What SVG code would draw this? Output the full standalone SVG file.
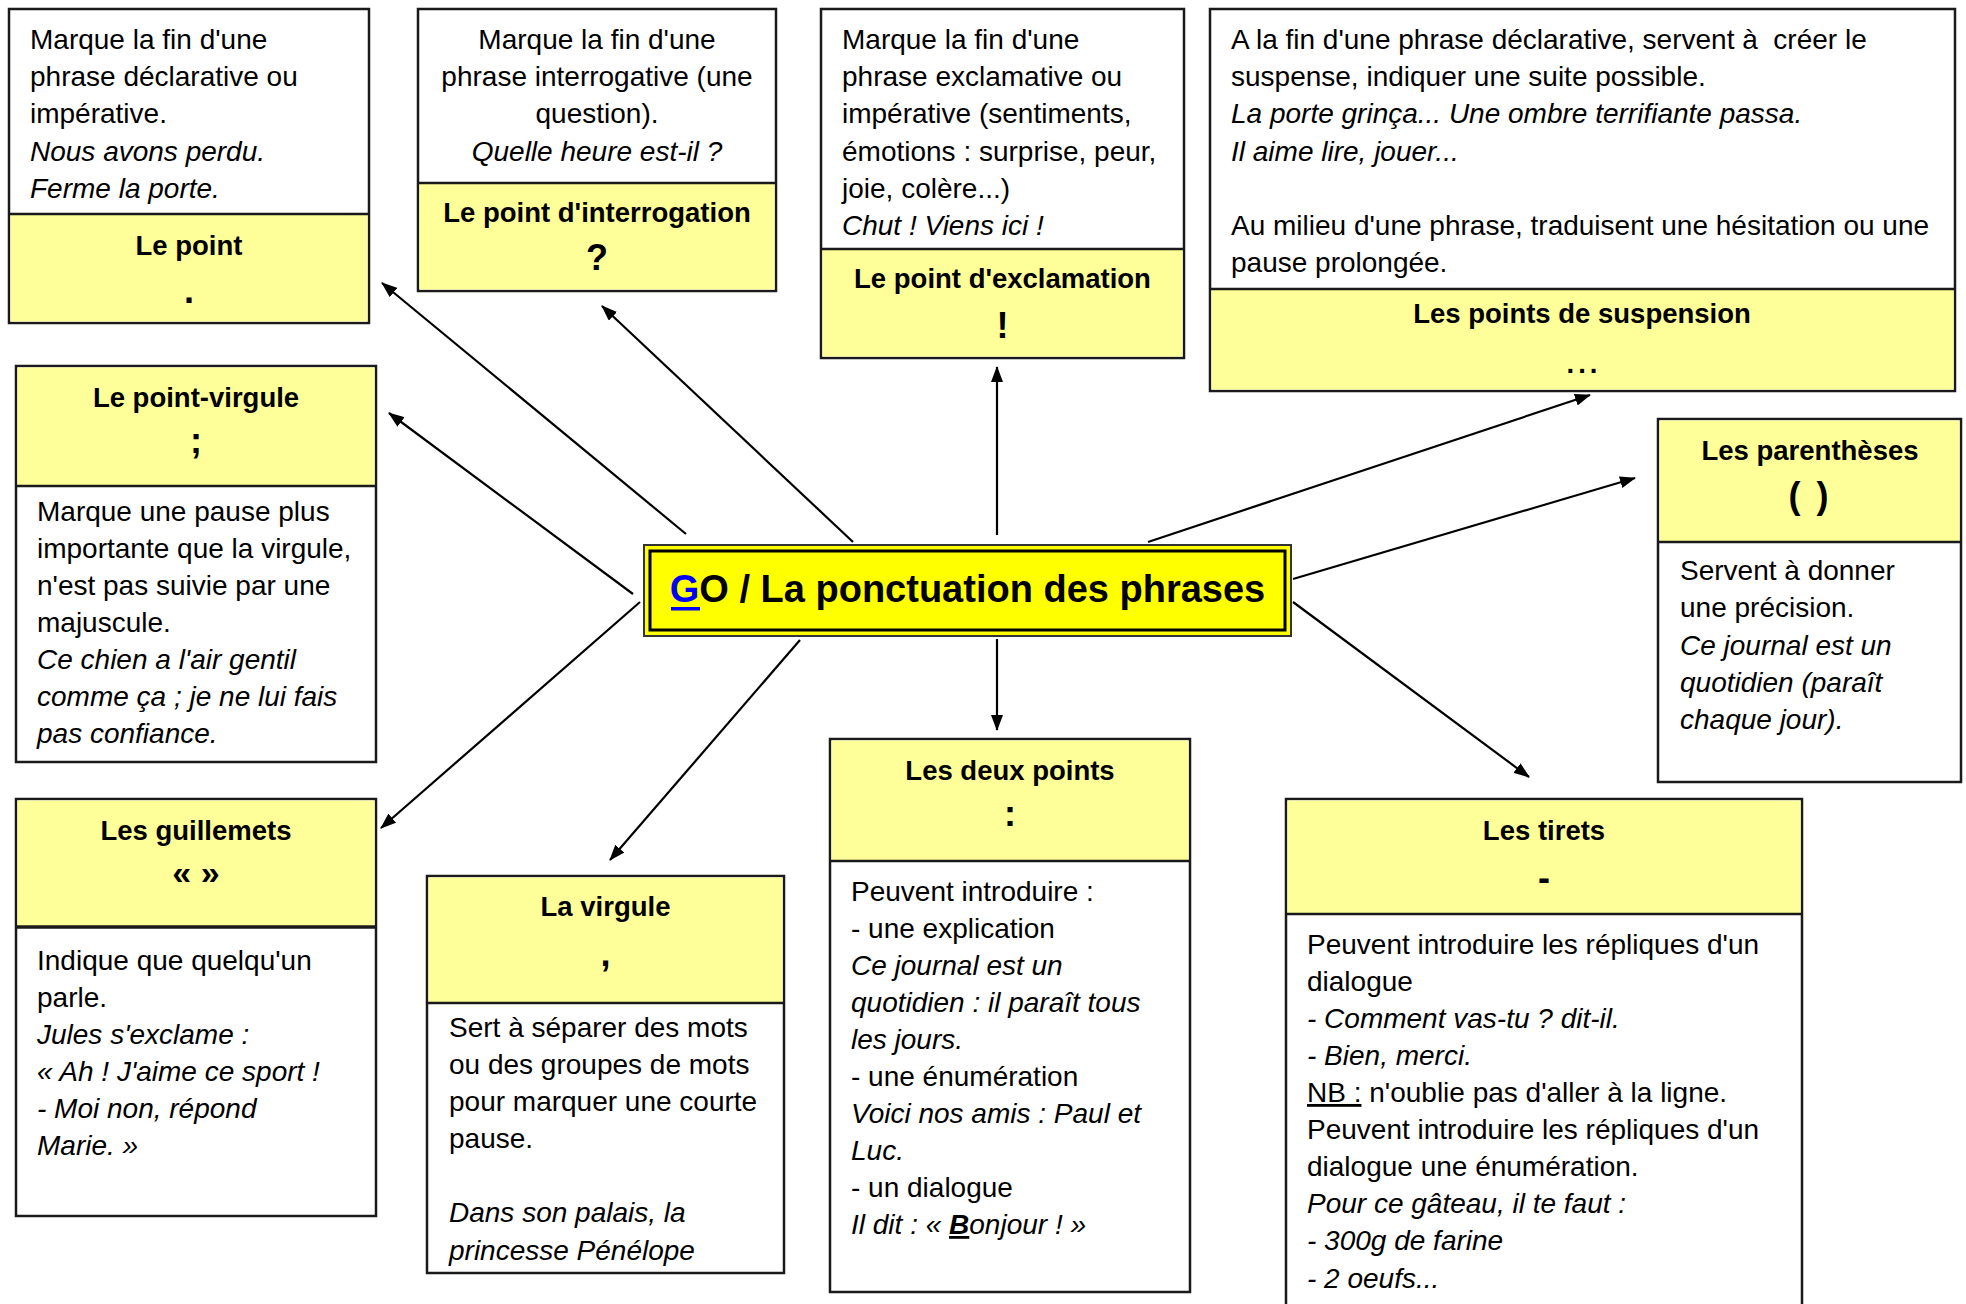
<svg xmlns="http://www.w3.org/2000/svg" width="1966" height="1304" viewBox="0 0 1966 1304">
<style>
text{font-family:"Liberation Sans",Arial,sans-serif;fill:#000}
.b{font-size:28px}
.i{font-size:28px;font-style:italic}
.t{font-size:27.5px;font-weight:bold;text-anchor:middle}
.p{font-size:36px;font-weight:bold;text-anchor:middle}
.c{text-anchor:middle}
.box{fill:#fff;stroke:#1a1a1a;stroke-width:2.5}
.y{fill:#ffff99}
.div{stroke:#1a1a1a;stroke-width:2.5}
.conn line{stroke:#000;stroke-width:2.2;marker-end:url(#ah)}
</style>
<defs>
<marker id="ah" viewBox="0 0 16 12" refX="15" refY="6" markerWidth="16" markerHeight="12" markerUnits="userSpaceOnUse" orient="auto">
<path d="M0,0 L16,6 L0,12 z" fill="#000"/>
</marker>
</defs>
<rect width="1966" height="1304" fill="#fff"/>

<g class="conn">
<line x1="686" y1="534" x2="382" y2="283"/>
<line x1="853" y1="542" x2="602" y2="306"/>
<line x1="997" y1="535" x2="997" y2="367"/>
<line x1="1148" y1="542" x2="1590" y2="395"/>
<line x1="1293" y1="579" x2="1635" y2="478"/>
<line x1="633" y1="594" x2="389" y2="413"/>
<line x1="640" y1="602" x2="381" y2="828"/>
<line x1="800" y1="640" x2="610" y2="860"/>
<line x1="997" y1="639" x2="997" y2="730"/>
<line x1="1293" y1="602" x2="1529" y2="777"/>
</g>

<g id="le-point">
<rect class="box" x="9" y="9" width="360" height="314"/>
<rect class="y" x="10.5" y="214" width="357" height="107.5"/>
<line class="div" x1="9" y1="214" x2="369" y2="214"/>
<text class="b" x="30" y="49">Marque la fin d'une</text>
<text class="b" x="30" y="86">phrase déclarative ou</text>
<text class="b" x="30" y="123">impérative.</text>
<text class="i" x="30" y="161">Nous avons perdu.</text>
<text class="i" x="30" y="198">Ferme la porte.</text>
<text class="t" x="189" y="255">Le point</text>
<text class="p" x="189" y="303">.</text>
</g>

<g id="point-interrogation">
<rect class="box" x="418" y="9" width="358" height="282"/>
<rect class="y" x="419.5" y="183" width="355" height="106.5"/>
<line class="div" x1="418" y1="183" x2="776" y2="183"/>
<text class="b c" x="597" y="49">Marque la fin d'une</text>
<text class="b c" x="597" y="86">phrase interrogative (une</text>
<text class="b c" x="597" y="123">question).</text>
<text class="i c" x="597" y="161">Quelle heure est-il ?</text>
<text class="t" x="597" y="222">Le point d'interrogation</text>
<text class="p" x="597" y="270">?</text>
</g>

<g id="point-exclamation">
<rect class="box" x="821" y="9" width="363" height="349"/>
<rect class="y" x="822.5" y="249" width="360" height="107.5"/>
<line class="div" x1="821" y1="249" x2="1184" y2="249"/>
<text class="b" x="842" y="49">Marque la fin d'une</text>
<text class="b" x="842" y="86">phrase exclamative ou</text>
<text class="b" x="842" y="123">impérative (sentiments,</text>
<text class="b" x="842" y="161">émotions : surprise, peur,</text>
<text class="b" x="842" y="198">joie, colère...)</text>
<text class="i" x="842" y="235">Chut ! Viens ici !</text>
<text class="t" x="1002.5" y="288">Le point d'exclamation</text>
<text class="p" x="1002.5" y="338">!</text>
</g>

<g id="points-suspension">
<rect class="box" x="1210" y="9" width="745" height="382"/>
<rect class="y" x="1211.5" y="289" width="742" height="100.5"/>
<line class="div" x1="1210" y1="289" x2="1955" y2="289"/>
<text class="b" x="1231" y="49">A la fin d'une phrase déclarative, servent à &#160;créer le</text>
<text class="b" x="1231" y="86">suspense, indiquer une suite possible.</text>
<text class="i" x="1231" y="123">La porte grinça... Une ombre terrifiante passa.</text>
<text class="i" x="1231" y="161">Il aime lire, jouer...</text>
<text class="b" x="1231" y="235">Au milieu d'une phrase, traduisent une hésitation ou une</text>
<text class="b" x="1231" y="272">pause prolongée.</text>
<text class="t" x="1582" y="323">Les points de suspension</text>
<text class="t" x="1584" y="373" style="letter-spacing:4px">...</text>
</g>

<g id="point-virgule">
<rect class="box" x="16" y="366" width="360" height="396"/>
<rect class="y" x="17.5" y="367.5" width="357" height="118.5"/>
<line class="div" x1="16" y1="486" x2="376" y2="486"/>
<text class="t" x="196" y="407">Le point-virgule</text>
<text class="p" x="196" y="453">;</text>
<text class="b" x="37" y="521">Marque une pause plus</text>
<text class="b" x="37" y="558">importante que la virgule,</text>
<text class="b" x="37" y="595">n'est pas suivie par une</text>
<text class="b" x="37" y="632">majuscule.</text>
<text class="i" x="37" y="669">Ce chien a l'air gentil</text>
<text class="i" x="37" y="706">comme ça ; je ne lui fais</text>
<text class="i" x="37" y="743">pas confiance.</text>
</g>

<g id="parentheses">
<rect class="box" x="1658" y="419" width="303" height="363"/>
<rect class="y" x="1659.5" y="420.5" width="300" height="121.5"/>
<line class="div" x1="1658" y1="542" x2="1961" y2="542"/>
<text class="t" x="1810" y="460">Les parenthèses</text>
<text class="p" x="1810" y="508" style="letter-spacing:3px">( )</text>
<text class="b" x="1680" y="580">Servent à donner</text>
<text class="b" x="1680" y="617">une précision.</text>
<text class="i" x="1680" y="655">Ce journal est un</text>
<text class="i" x="1680" y="692">quotidien (paraît</text>
<text class="i" x="1680" y="729">chaque jour).</text>
</g>

<g id="centre">
<rect x="644" y="545" width="647" height="91" fill="#ffff00" stroke="#333" stroke-width="2"/>
<rect x="650" y="551" width="635" height="79" fill="none" stroke="#000" stroke-width="3"/>
<text x="967.5" y="602" style="font-size:38px;font-weight:bold;text-anchor:middle"><tspan fill="#0000ff" style="fill:#0000ff">G</tspan>O / La ponctuation des phrases</text>
<rect x="671" y="607" width="29" height="3.5" fill="#0000ff"/>
</g>

<g id="guillemets">
<rect class="box" x="16" y="799" width="360" height="417"/>
<rect class="y" x="17.5" y="800.5" width="357" height="126.5"/>
<line x1="16" y1="927" x2="376" y2="927" stroke="#1a1a1a" stroke-width="3.5"/>
<text class="t" x="196" y="840">Les guillemets</text>
<text class="t" x="196" y="884" style="font-size:34px">« »</text>
<text class="b" x="37" y="970">Indique que quelqu'un</text>
<text class="b" x="37" y="1007">parle.</text>
<text class="i" x="37" y="1044">Jules s'exclame :</text>
<text class="i" x="37" y="1081">« Ah ! J'aime ce sport !</text>
<text class="i" x="37" y="1118">- Moi non, répond</text>
<text class="i" x="37" y="1155">Marie. »</text>
</g>

<g id="virgule">
<rect class="box" x="427" y="876" width="357" height="397"/>
<rect class="y" x="428.5" y="877.5" width="354" height="125.5"/>
<line class="div" x1="427" y1="1003" x2="784" y2="1003"/>
<text class="t" x="605.5" y="916">La virgule</text>
<text class="p" x="605.5" y="966">,</text>
<text class="b" x="449" y="1037">Sert à séparer des mots</text>
<text class="b" x="449" y="1074">ou des groupes de mots</text>
<text class="b" x="449" y="1111">pour marquer une courte</text>
<text class="b" x="449" y="1148">pause.</text>
<text class="i" x="449" y="1222">Dans son palais, la</text>
<text class="i" x="449" y="1260">princesse Pénélope</text>
</g>

<g id="deux-points">
<rect class="box" x="830" y="739" width="360" height="553"/>
<rect class="y" x="831.5" y="740.5" width="357" height="120.5"/>
<line class="div" x1="830" y1="861" x2="1190" y2="861"/>
<text class="t" x="1010" y="780">Les deux points</text>
<text class="p" x="1010" y="826">:</text>
<text class="b" x="851" y="901">Peuvent introduire :</text>
<text class="b" x="851" y="938">- une explication</text>
<text class="i" x="851" y="975">Ce journal est un</text>
<text class="i" x="851" y="1012">quotidien : il paraît tous</text>
<text class="i" x="851" y="1049">les jours.</text>
<text class="b" x="851" y="1086">- une énumération</text>
<text class="i" x="851" y="1123">Voici nos amis : Paul et</text>
<text class="i" x="851" y="1160">Luc.</text>
<text class="b" x="851" y="1197">- un dialogue</text>
<text class="i" x="851" y="1234">Il dit : « <tspan text-decoration="underline" style="text-decoration:underline;font-weight:bold">B</tspan>onjour ! »</text>
</g>

<g id="tirets">
<rect class="box" x="1286" y="799" width="516" height="520"/>
<rect class="y" x="1287.5" y="800.5" width="513" height="113.5"/>
<line class="div" x1="1286" y1="914" x2="1802" y2="914"/>
<text class="t" x="1544" y="840">Les tirets</text>
<text class="p" x="1544" y="890">-</text>
<text class="b" x="1307" y="954">Peuvent introduire les répliques d'un</text>
<text class="b" x="1307" y="991">dialogue</text>
<text class="i" x="1307" y="1028">- Comment vas-tu ? dit-il.</text>
<text class="i" x="1307" y="1065">- Bien, merci.</text>
<text class="b" x="1307" y="1102"><tspan text-decoration="underline" style="text-decoration:underline">NB :</tspan> n'oublie pas d'aller à la ligne.</text>
<text class="b" x="1307" y="1139">Peuvent introduire les répliques d'un</text>
<text class="b" x="1307" y="1176">dialogue une énumération.</text>
<text class="i" x="1307" y="1213">Pour ce gâteau, il te faut :</text>
<text class="i" x="1307" y="1250">- 300g de farine</text>
<text class="i" x="1307" y="1288">- 2 oeufs...</text>
</g>
</svg>
